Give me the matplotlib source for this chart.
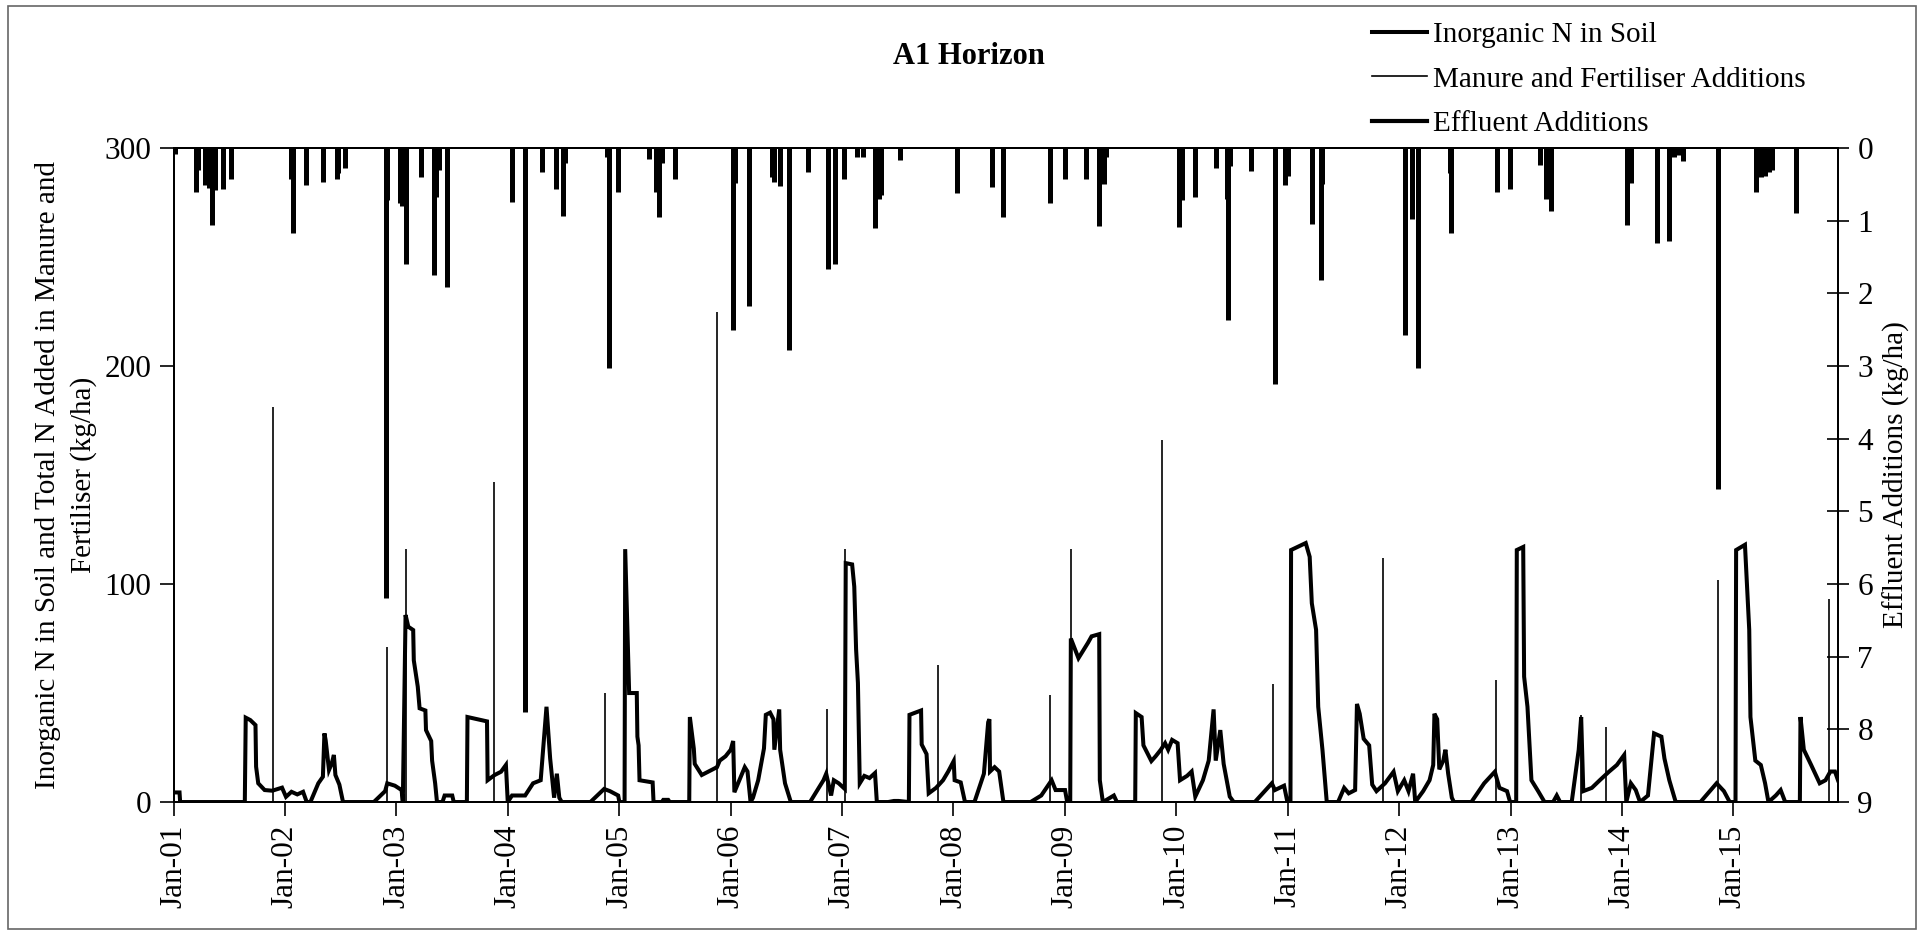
import matplotlib
matplotlib.use("Agg")

import matplotlib.pyplot as plt
import matplotlib.dates as mdates
import pandas as pd
from matplotlib.lines import Line2D
from matplotlib.patches import Rectangle

plt.rcParams["font.family"] = ["Liberation Serif", "DejaVu Serif"]

# ---- data -------------------------------------------------------------------
soil_dates = [
    "2001-01-01", "2001-01-20", "2001-01-22", "2001-08-22", "2001-08-25", "2001-09-09",
    "2001-09-26", "2001-09-28", "2001-10-05", "2001-10-26", "2001-11-20", "2001-12-22",
    "2002-01-04", "2002-01-22", "2002-02-10", "2002-03-01", "2002-03-13", "2002-03-25",
    "2002-04-20", "2002-05-05", "2002-05-10", "2002-05-14", "2002-05-25", "2002-06-03",
    "2002-06-10", "2002-06-15", "2002-06-28", "2002-07-10",
    "2002-10-19", "2002-11-25", "2002-12-02", "2002-12-27", "2003-01-18", "2003-01-22",
    "2003-01-31", "2003-02-09", "2003-02-25", "2003-02-27", "2003-03-12", "2003-03-18",
    "2003-04-06", "2003-04-08", "2003-04-25", "2003-04-28", "2003-05-08", "2003-05-14",
    "2003-06-01", "2003-06-08", "2003-07-03", "2003-07-08",
    "2003-08-20", "2003-08-22", "2003-10-25", "2003-10-27", "2003-11-19", "2003-12-10",
    "2003-12-26", "2004-01-01", "2004-01-15", "2004-02-27", "2004-03-24", "2004-04-18",
    "2004-05-05", "2004-05-07", "2004-05-19", "2004-06-01", "2004-06-10", "2004-06-18",
    "2004-06-26",
    "2004-09-28", "2004-11-12", "2004-12-01", "2004-12-28", "2005-01-01", "2005-01-18",
    "2005-01-20", "2005-02-02", "2005-02-27", "2005-03-01", "2005-03-05", "2005-03-08",
    "2005-04-20", "2005-04-23",
    "2005-05-20", "2005-05-25", "2005-06-10", "2005-06-15", "2005-08-18", "2005-08-20",
    "2005-09-02", "2005-09-05", "2005-09-28", "2005-10-20", "2005-11-17", "2005-11-26",
    "2005-12-15", "2006-01-01", "2006-01-09", "2006-01-13", "2006-01-25", "2006-02-16",
    "2006-02-25", "2006-03-07", "2006-03-15", "2006-04-01", "2006-04-20", "2006-04-26",
    "2006-05-10", "2006-05-21", "2006-05-24", "2006-06-09", "2006-06-12", "2006-06-28",
    "2006-07-17",
    "2006-09-18", "2006-11-01", "2006-11-10", "2006-11-26", "2006-12-05", "2006-12-21",
    "2007-01-10", "2007-01-13", "2007-02-03", "2007-02-10", "2007-02-16", "2007-02-22",
    "2007-02-28", "2007-03-15", "2007-04-01", "2007-04-19", "2007-04-25",
    "2007-06-01", "2007-06-20", "2007-07-05", "2007-08-08", "2007-08-10", "2007-09-17",
    "2007-09-19", "2007-10-05", "2007-10-12", "2007-11-05", "2007-11-28", "2007-12-15",
    "2008-01-02", "2008-01-05", "2008-01-25", "2008-02-08",
    "2008-03-10", "2008-04-10", "2008-04-24", "2008-04-28", "2008-04-30", "2008-05-15",
    "2008-05-30", "2008-06-13",
    "2008-09-10", "2008-10-15", "2008-11-18", "2008-12-01", "2009-01-01", "2009-01-08",
    "2009-01-18", "2009-01-20", "2009-02-14", "2009-03-17", "2009-03-29", "2009-04-23",
    "2009-04-25", "2009-05-05", "2009-06-10", "2009-06-20",
    "2009-08-19", "2009-08-21", "2009-09-09", "2009-09-15", "2009-10-11", "2009-10-25",
    "2009-11-11", "2009-11-25", "2009-12-05", "2009-12-18", "2010-01-05", "2010-01-13",
    "2010-02-05", "2010-02-20", "2010-03-04", "2010-03-29", "2010-04-17", "2010-05-03",
    "2010-05-10", "2010-05-25", "2010-06-05", "2010-06-25", "2010-07-08",
    "2010-09-15", "2010-11-10", "2010-11-20", "2010-12-20", "2010-12-31", "2011-01-10",
    "2011-01-12", "2011-03-01", "2011-03-14", "2011-03-21", "2011-04-04", "2011-04-11",
    "2011-04-25", "2011-05-09",
    "2011-06-15", "2011-07-05", "2011-07-20", "2011-08-10", "2011-08-16", "2011-08-25",
    "2011-09-07", "2011-09-25", "2011-10-05", "2011-10-19", "2011-11-16", "2011-12-14",
    "2011-12-28", "2012-01-18", "2012-02-01", "2012-02-16", "2012-02-23",
    "2012-03-20", "2012-04-10", "2012-04-22", "2012-04-26", "2012-05-05", "2012-05-12",
    "2012-05-25", "2012-06-01", "2012-06-10", "2012-06-22", "2012-06-29",
    "2012-08-25", "2012-10-06", "2012-11-10", "2012-11-25", "2012-12-20", "2012-12-30",
    "2013-01-19", "2013-01-21", "2013-02-11", "2013-02-14", "2013-02-25", "2013-03-10",
    "2013-04-01", "2013-04-22",
    "2013-05-20", "2013-06-01", "2013-06-12", "2013-07-20", "2013-08-12", "2013-08-20",
    "2013-08-27", "2013-09-24", "2013-10-20", "2013-11-19", "2013-12-15", "2014-01-08",
    "2014-01-15", "2014-01-30", "2014-02-15", "2014-03-01", "2014-03-27", "2014-04-16",
    "2014-05-10", "2014-05-20", "2014-06-05", "2014-06-26",
    "2014-09-15", "2014-11-07", "2014-12-01", "2014-12-20", "2015-01-08", "2015-01-10",
    "2015-02-08", "2015-02-22", "2015-02-26", "2015-03-14", "2015-04-01", "2015-04-15",
    "2015-04-26",
    "2015-05-20", "2015-06-05", "2015-06-20", "2015-08-07", "2015-08-09", "2015-08-20",
    "2015-09-13", "2015-10-11", "2015-10-30", "2015-11-15", "2015-11-30", "2015-12-10",
]
soil_n = [
    4.4, 4.4, 0, 0, 38.7, 37.6,
    35.3, 16.2, 8.6, 5.5, 5.2, 6.6,
    2.4, 4.7, 3.5, 4.7, 0, 0,
    8.6, 11.6, 31.5, 28.4, 14.7, 17.7,
    21.6, 12.4, 8, 0,
    0, 5, 8.6, 7.5, 5.5, 0,
    85.8, 80.4, 78.9, 65, 52.9, 43,
    42, 33, 28, 19, 8.6, 0,
    0, 3, 3, 0,
    0, 39, 37, 10, 12.4, 13.9,
    17, 0, 3, 3, 8.6, 10,
    40, 43.7, 20, 2, 13, 2,
    0,
    0, 6, 5, 3, 0, 0,
    116, 50, 50, 30, 26, 10,
    9, 0,
    0, 1, 1, 0, 0, 39,
    24.5, 17.5, 12.4, 14, 16, 19,
    21, 24, 28, 4.5, 8.6, 16,
    14, 0, 2, 10, 24.6, 40,
    41, 38, 24, 42.5, 24, 8.6,
    0,
    0, 10, 13, 3, 10, 8.6,
    6, 109.6, 109, 98.8, 70, 54.6,
    8.6, 12, 11, 13.3, 0,
    0, 0.5, 0.5, 0, 40, 42,
    26.4, 22, 4, 6.5, 10, 14,
    18.8, 10, 9, 0,
    0, 13, 36.6, 38, 14, 16,
    14, 0,
    0, 3, 10, 5.5, 5.5, 0,
    0, 75, 66, 73, 76, 77,
    10, 0, 3, 0,
    0, 40.8, 39, 26, 18.8, 21,
    24, 27, 24, 28.5, 27, 10,
    12, 14, 2.5, 10, 19, 42.5,
    19, 33, 17.5, 2.5, 0,
    0, 8.6, 5.5, 7.5, 0, 0,
    115.6, 118.8, 112.5, 91.2, 79, 43.7,
    23.8, 0,
    0, 6.5, 4, 5.5, 45, 40.5,
    29, 26, 8, 5, 8.6, 13.9,
    5, 10, 5, 13, 0,
    5, 10, 17, 40.5, 38, 15,
    19, 24, 13, 2, 0,
    0, 8.6, 13.9, 6.5, 5, 0,
    0, 115.6, 117, 57.5, 43.7, 10,
    5, 0,
    0, 3, 0, 0, 24, 39,
    5, 6.5, 10, 13.9, 17, 21.6,
    0, 8.6, 5.5, 0, 3, 31.5,
    30, 20, 10, 0,
    0, 8.6, 5, 0, 0, 115.6,
    118, 79, 39, 19, 17, 8.6,
    0,
    3, 5.5, 0, 0, 39, 24,
    17, 8.6, 10, 14, 14, 10,
]

manure_dates = [
    "2001-11-21", "2002-12-02", "2003-02-01", "2003-11-16", "2004-11-16", "2005-11-16",
    "2006-11-13", "2007-01-12", "2007-11-10", "2008-11-14", "2009-01-20", "2009-11-14",
    "2010-11-14", "2011-11-09", "2012-11-14", "2013-08-20", "2013-11-08", "2014-11-10",
    "2015-11-12",
]
manure_n = [
    181, 71, 116, 147, 50, 225,
    42.5, 116, 63, 49, 116, 166,
    54, 112, 56, 40, 34.5, 102,
    93,
]

effluent_dates = [
    "2001-01-05", "2001-03-14", "2001-03-20", "2001-04-12", "2001-04-17", "2001-04-26",
    "2001-05-06", "2001-05-15", "2001-06-13", "2001-07-08",
    "2002-01-19", "2002-01-28", "2002-03-10", "2002-05-06", "2002-06-19", "2002-06-25",
    "2002-07-16", "2002-11-27", "2002-12-02",
    "2003-01-12", "2003-01-20", "2003-01-31", "2003-03-22", "2003-05-03", "2003-05-10",
    "2003-05-20", "2003-06-16",
    "2004-01-16", "2004-02-28", "2004-04-21", "2004-06-07", "2004-06-30", "2004-07-08",
    "2004-11-20", "2004-11-28", "2004-12-28",
    "2005-04-08", "2005-04-30", "2005-05-10", "2005-05-20", "2005-07-01",
    "2006-01-10", "2006-01-16", "2006-03-01", "2006-05-15", "2006-05-22", "2006-06-10",
    "2006-07-10", "2006-09-12", "2006-11-17", "2006-12-08", "2007-01-06", "2007-02-20",
    "2007-03-10", "2007-04-19", "2007-04-24", "2007-05-02", "2007-05-10", "2007-07-09",
    "2008-01-12", "2008-05-07", "2008-06-13", "2008-11-12", "2009-01-02", "2009-03-11",
    "2009-04-23", "2009-05-01", "2009-05-08", "2009-05-15",
    "2010-01-11", "2010-01-18", "2010-03-04", "2010-05-10", "2010-06-15", "2010-06-19",
    "2010-06-26", "2010-09-02", "2010-11-21", "2010-12-24", "2011-01-03",
    "2011-03-20", "2011-04-19", "2011-04-24",
    "2012-01-22", "2012-02-12", "2012-03-02", "2012-06-15", "2012-06-20", "2012-11-18",
    "2012-12-30", "2013-04-08", "2013-04-28", "2013-05-14",
    "2014-01-17", "2014-01-30", "2014-04-24", "2014-06-03", "2014-06-20", "2014-07-05",
    "2014-07-20", "2014-11-11", "2015-03-17", "2015-04-01", "2015-04-15", "2015-04-28",
    "2015-05-08", "2015-07-25",
]
effluent = [
    0.08, 0.61, 0.3, 0.51, 0.45, 0.55,
    1.06, 0.58, 0.57, 0.42,
    0.42, 1.17, 0.51, 0.47, 0.42, 0.35,
    0.28, 6.19, 0.72,
    0.75, 0.8, 1.59, 0.4, 1.75, 0.68,
    0.3, 1.91,
    0.74, 7.76, 0.33, 0.56, 0.93, 0.2,
    0.12, 3.03, 0.6,
    0.15, 0.6, 0.95, 0.2, 0.42,
    2.5, 0.48, 2.18, 0.4, 0.47, 0.52,
    2.78, 0.33, 1.66, 1.6, 0.42, 0.12,
    0.12, 1.1, 0.35, 0.7, 0.65, 0.17,
    0.62, 0.54, 0.95, 0.75, 0.43, 0.43,
    1.08, 0.45, 0.5, 0.12,
    1.09, 0.72, 0.68, 0.28, 0.7, 2.37,
    0.25, 0.32, 3.25, 0.51, 0.38,
    1.04, 1.82, 0.5,
    2.57, 0.97, 3.03, 0.35, 1.17, 0.61,
    0.57, 0.23, 0.7, 0.87,
    1.06, 0.48, 1.31, 1.28, 0.13, 0.1,
    0.18, 4.69, 0.61, 0.4, 0.38, 0.33,
    0.3, 0.9,
]

year_ticks = pd.date_range("2001-01-01", "2015-01-01", freq="YS")

# ---- figure -----------------------------------------------------------------
fig = plt.figure(figsize=(19.24, 9.35), dpi=100)
ax = fig.add_axes([0.0903, 0.1422, 0.865, 0.6995])
ax2 = ax.twinx()

ax.plot(pd.to_datetime(soil_dates), soil_n, color="black", lw=2.9,
        solid_joinstyle="miter", zorder=3)
ax.vlines(pd.to_datetime(manure_dates), 0, manure_n, color="black", lw=1.2, zorder=2)
ax2.vlines(pd.to_datetime(effluent_dates), 0, effluent, color="black", lw=3.6)

ax.set_xlim(pd.Timestamp("2001-01-01"), pd.Timestamp("2015-12-10"))
ax.set_ylim(0, 300)
ax.set_yticks([0, 100, 200, 300])
ax2.set_ylim(9, 0)
ax2.set_yticks(range(10))

ax.set_xticks(year_ticks)
ax.xaxis.set_major_formatter(mdates.DateFormatter("%b-%y"))
ax.tick_params(axis="x", labelrotation=90, direction="out", length=10, width=1.2,
               labelsize=22.5, pad=6)
ax.tick_params(axis="y", direction="out", length=10, width=1.2, labelsize=22.5, pad=6)
ax2.tick_params(axis="y", direction="inout", length=16, width=1.2, labelsize=22.5, pad=6)

for a in (ax, ax2):
    for s in a.spines.values():
        s.set_linewidth(1.4)

fig.text(969 / 1924, 1 - 56 / 935, "A1 Horizon", ha="center", va="center",
         fontsize=22, weight="bold")
fig.text(66 / 1924, 1 - 475 / 935,
         "Inorganic N in Soil and Total N Added in Manure and\nFertiliser (kg/ha)",
         rotation=90, ha="center", va="center", fontsize=21, linespacing=1.45,
         multialignment="center")
fig.text(1896 / 1924, 1 - 475 / 935, "Effluent Additions (kg/ha)", rotation=90,
         ha="center", va="center", fontsize=21)

handles = [
    Line2D([], [], color="black", lw=2.9),
    Line2D([], [], color="black", lw=1.2),
    Line2D([], [], color="black", lw=3.0),
]
labels = ["Inorganic N in Soil", "Manure and Fertiliser Additions", "Effluent Additions"]
fig.legend(handles, labels, loc="upper left", bbox_to_anchor=(1360 / 1924, 1 - 10 / 935),
           frameon=False, fontsize=21, handlelength=1.9, handletextpad=0.2,
           labelspacing=0.62, borderaxespad=0)

fig.patches.append(Rectangle((0.004, 0.006), 0.992, 0.988, transform=fig.transFigure,
                             fill=False, ec="#666666", lw=1.2))

fig.savefig("out.png", dpi=100)
